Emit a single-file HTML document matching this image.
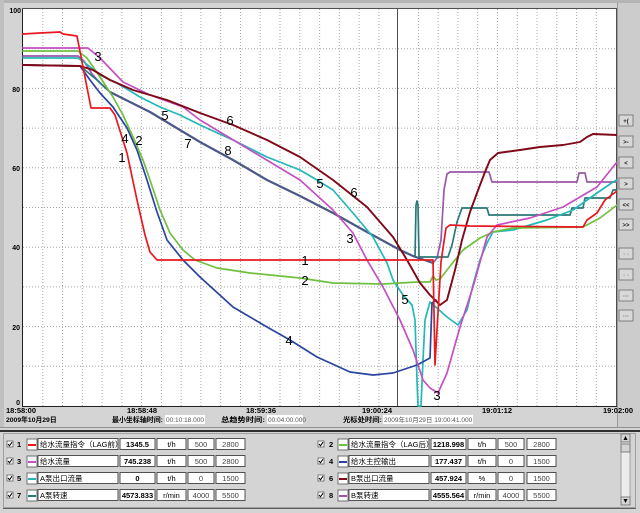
<!DOCTYPE html>
<html><head><meta charset="utf-8"><style>
html,body{margin:0;padding:0;background:#d4d4d4;}
svg{display:block;}
text{font-family:"Liberation Sans","Noto Sans CJK SC",sans-serif;}
</style></head><body>
<svg width="640" height="513" viewBox="0 0 640 513" xmlns="http://www.w3.org/2000/svg">
<rect x="0" y="0" width="640" height="513" fill="#d4d4d4"/>
<rect x="0" y="0" width="640" height="3" fill="#b4b4b4"/>
<rect x="0" y="0" width="4" height="428" fill="#c0c0c0"/>
<!-- plot -->
<rect x="23" y="9" width="593" height="397" fill="#ffffff"/>
<g stroke="#a8a8a8" stroke-width="1" stroke-dasharray="1,2" fill="none">
<path d="M42.8 9V406M62.5 9V406M82.3 9V406M102.1 9V406M121.9 9V406M141.6 9V406M161.4 9V406M181.2 9V406M200.9 9V406M220.7 9V406M240.5 9V406M260.2 9V406M280 9V406M299.8 9V406M319.6 9V406M339.3 9V406M359.1 9V406M378.9 9V406M418.4 9V406M438.2 9V406M457.9 9V406M477.7 9V406M497.5 9V406M517.3 9V406M537 9V406M556.8 9V406M576.6 9V406M596.3 9V406"/>
<path d="M23 48.7H616M23 88.4H616M23 128.1H616M23 167.8H616M23 207.5H616M23 247.2H616M23 286.9H616M23 326.6H616M23 366.3H616"/>
</g>
<line x1="397.5" y1="9" x2="397.5" y2="406" stroke="#505050" stroke-width="1"/>
<rect x="22.5" y="8.5" width="594" height="398" fill="none" stroke="#505050" stroke-width="1"/>
<line x1="22.5" y1="9" x2="22.5" y2="406" stroke="#202020" stroke-width="1"/>
<line x1="22" y1="406.5" x2="617" y2="406.5" stroke="#202020" stroke-width="1"/>

<!-- series -->
<g fill="none" stroke-linejoin="round" stroke-linecap="round" stroke-width="1.7">
<!-- 8 purple -->
<polyline stroke="#9a58a8" points="23,56 78,56 84,61 92,74 100,83 110,92 130,102 150,112 175,127 200,142 233,160 267,180 300,196 333,213 367,232 400,250 413,256 433,263 437,258 441,240 444,190 447,174 450,172 489,172 492,182 577,182 579,173 585,173 587,182 617,182"/>
<!-- 7 teal -->
<polyline stroke="#2a7878" points="23,65 80,66 85,70 97,80 110,92 130,102 150,112 175,127 200,142 233,160 267,180 300,196 333,213 367,232 400,250 413,256 415,257 416,205 417,201 418,205 419,257 420,257 448,257 452,245 457,222 462,208 487,208 489,215 570,215 572,208 583,208 585,198 610,198 613,190 617,190"/>
<!-- overlapped 7/8 slate -->
<polyline stroke="#4c5a88" stroke-width="2.2" points="110,92 130,102 150,112 175,127 200,142 233,160 267,180 300,196 333,213 367,232 400,250 413,256 433,263"/>
<!-- 5 cyan -->
<polyline stroke="#22b8b8" points="23,58 78,58 84,62 100,75 117,83 140,97 160,107 180,115 200,125 233,140 267,157 300,170 317,180 333,190 353,213 373,237 387,263 393,280 403,295 412,305 415,320 417,380 418,406 421,406 423,360 425,320 430,302 447,317 458,325 467,310 473,285 480,260 487,243 493,232 513,230 547,220 573,210 597,193 613,182 617,180"/>
<!-- 4 blue -->
<polyline stroke="#2a44a0" points="23,65 80,66 90,80 100,93 113,107 127,128 137,150 147,180 157,212 167,240 183,260 200,277 233,307 267,327 290,340 317,357 350,372 373,375 393,373 417,365 430,358 432,303 436,300"/>
<!-- 2 green -->
<polyline stroke="#70c040" points="23,51 78,51 87,58 100,77 113,97 123,115 133,137 143,160 150,180 160,210 170,233 183,250 195,260 217,268 250,273 300,278 333,283 383,284 417,282 430,282 433,276 436,280 440,279 447,270 463,250 480,238 493,232 513,228 583,227 600,218 617,205"/>
<!-- 3 magenta -->
<polyline stroke="#c450c0" points="23,48 88,48 100,58 123,82 150,95 183,107 200,120 225,135 250,150 275,165 300,180 333,210 353,233 367,260 383,287 400,320 413,350 423,380 430,388 438,393 447,373 460,327 473,287 487,237 497,225 530,218 563,207 597,187 617,162"/>
<!-- 6 dark red -->
<polyline stroke="#800818" stroke-width="1.9" points="23,65 80,66 93,70 110,80 133,90 167,100 200,113 233,125 267,140 300,157 333,180 367,207 393,237 407,260 420,283 430,295 440,305 447,300 455,270 462,240 470,212 477,193 485,172 490,160 498,153 520,150 540,147 563,145 580,142 587,137 593,134 617,135"/>
<!-- 1 red -->
<polyline stroke="#e81820" points="23,34 40,33 60,32 63,34 77,36 91,108 110,108 115,115 127,153 137,200 145,235 150,252 157,260 433,260 435,365 437,330 441,262 446,228 450,225 470,226 583,227 587,220 597,213 605,200 617,191"/>
</g>

<!-- curve labels -->
<g font-size="13" fill="#000" text-anchor="middle">
<text x="98" y="61">3</text>
<text x="122" y="162">1</text>
<text x="125" y="143">4</text>
<text x="139" y="145">2</text>
<text x="165" y="120">5</text>
<text x="188" y="148">7</text>
<text x="228" y="155">8</text>
<text x="230" y="125">6</text>
<text x="320" y="188">5</text>
<text x="354" y="197">6</text>
<text x="350" y="243">3</text>
<text x="305" y="265">1</text>
<text x="305" y="285">2</text>
<text x="289" y="345">4</text>
<text x="405" y="304">5</text>
<text x="437" y="400">3</text>
</g>

<!-- y labels -->
<g font-size="7" font-weight="bold" fill="#000" text-anchor="end">
<text x="21" y="13">100</text>
<text x="20" y="92">80</text>
<text x="20" y="171">60</text>
<text x="20" y="250">40</text>
<text x="20" y="330">20</text>
<text x="20" y="405">0</text>
</g>

<!-- right button panel -->
<rect x="617" y="3" width="23" height="424" fill="#cccccc"/>
<line x1="617.5" y1="3" x2="617.5" y2="427" stroke="#9a9a9a"/>
<g font-size="6" fill="#222" text-anchor="middle" font-weight="bold">
<rect x="619" y="115" width="14" height="11" fill="#d8d8d8" stroke="#808080"/><text x="626" y="123">+(</text>
<rect x="619" y="136" width="14" height="11" fill="#d8d8d8" stroke="#808080"/><text x="626" y="144">&gt;-</text>
<rect x="619" y="157" width="14" height="11" fill="#d8d8d8" stroke="#808080"/><text x="626" y="165">&lt;</text>
<rect x="619" y="178" width="14" height="11" fill="#d8d8d8" stroke="#808080"/><text x="626" y="186">&gt;</text>
<rect x="619" y="199" width="14" height="11" fill="#d8d8d8" stroke="#808080"/><text x="626" y="207">&lt;&lt;</text>
<rect x="619" y="219" width="14" height="11" fill="#d8d8d8" stroke="#808080"/><text x="626" y="227">&gt;&gt;</text>
<rect x="619" y="248" width="14" height="11" fill="#d8d8d8" stroke="#808080"/><text x="626" y="256" fill="#999">- -</text>
<rect x="619" y="269" width="14" height="11" fill="#d8d8d8" stroke="#808080"/><text x="626" y="277" fill="#999">- -</text>
<rect x="619" y="290" width="14" height="11" fill="#d8d8d8" stroke="#808080"/><text x="626" y="298" fill="#666">···</text>
<rect x="619" y="310" width="14" height="11" fill="#d8d8d8" stroke="#808080"/><text x="626" y="318" fill="#666">···</text>
</g>

<!-- time axis labels -->
<g font-size="7.5" font-weight="bold" fill="#000">
<text x="6" y="413">18:58:00</text>
<text x="142" y="413" text-anchor="middle">18:58:48</text>
<text x="261" y="413" text-anchor="middle">18:59:36</text>
<text x="377" y="413" text-anchor="middle">19:00:24</text>
<text x="497" y="413" text-anchor="middle">19:01:12</text>
<text x="633" y="413" text-anchor="end">19:02:00</text>
</g>
<g font-size="6.8" font-weight="bold" fill="#000">
<text x="6" y="422">2009年10月29日</text>
<text x="112" y="422" textLength="51" lengthAdjust="spacingAndGlyphs">最小坐标轴时间:</text>
<text x="221" y="422" textLength="44" lengthAdjust="spacingAndGlyphs">总趋势时间:</text>
<text x="343" y="422" textLength="39" lengthAdjust="spacingAndGlyphs">光标处时间:</text>
</g>
<rect x="165" y="415" width="40" height="9" fill="#fff"/>
<rect x="267" y="415" width="36" height="9" fill="#fff"/>
<rect x="383" y="415" width="90" height="9" fill="#fff"/>
<g font-size="6.5" fill="#555">
<text x="166" y="422">00:10:18.000</text>
<text x="268" y="422">00:04:00.000</text>
<text x="384" y="422">2009年10月29日 19:00:41.000</text>
</g>

<line x1="0" y1="427.5" x2="640" y2="427.5" stroke="#909090"/>
<rect x="0" y="430" width="640" height="2" fill="#303030"/>
<!-- legend panel -->
<rect x="3.5" y="433.5" width="632" height="74" fill="#d4d4d4" stroke="#a0a0a0"/>
<line x1="3" y1="508.5" x2="636" y2="508.5" stroke="#606060"/>

<!-- scrollbar -->
<rect x="621" y="434" width="9" height="71" fill="#ececec" stroke="#a0a0a0"/>
<rect x="621" y="434" width="9" height="8" fill="#d4d4d4" stroke="#808080"/>
<rect x="621" y="444" width="9" height="8" fill="#d4d4d4" stroke="#808080"/>
<rect x="621" y="497" width="9" height="8" fill="#d4d4d4" stroke="#808080"/>
<path d="M623.5 440 L625.5 436 L627.5 440Z M623.5 499 L625.5 503 L627.5 499Z" fill="#000"/>

<defs>
<g id="chk">
<rect x="0" y="-3" width="6" height="6" fill="#fff" stroke="#606060" stroke-width="0.8"/>
<path d="M1 0 L2.5 1.8 L5 -1.8" stroke="#000" stroke-width="1" fill="none"/>
</g>
</defs>

<g font-size="7.5">
<g transform="translate(0,444)">
<use href="#chk" x="7"/><text x="17" y="3" font-weight="bold">1</text>
<rect x="27" y="-5" width="10" height="11" fill="#fff" stroke="#707070"/><line x1="28" y1="1" x2="36" y2="1" stroke="#e81820" stroke-width="2"/>
<rect x="38" y="-5.5" width="80" height="11" fill="#fff" stroke="#505050"/><text x="40" y="3">给水流量指令（LAG前）</text>
<rect x="120" y="-5.5" width="35" height="11" fill="#fff" stroke="#505050"/><text x="137.5" y="3" text-anchor="middle" font-weight="bold">1345.5</text>
<rect x="157" y="-5.5" width="29" height="11" fill="#fff" stroke="#505050"/><text x="171.5" y="3" text-anchor="middle">t/h</text>
<rect x="188" y="-5.5" width="26" height="11" fill="#fff" stroke="#505050"/><text x="201" y="3" text-anchor="middle" fill="#444">500</text>
<rect x="216" y="-5.5" width="29" height="11" fill="#fff" stroke="#505050"/><text x="230.5" y="3" text-anchor="middle" fill="#444">2800</text>
</g>
<g transform="translate(0,461)">
<use href="#chk" x="7"/><text x="17" y="3" font-weight="bold">3</text>
<rect x="27" y="-5" width="10" height="11" fill="#fff" stroke="#707070"/><line x1="28" y1="1" x2="36" y2="1" stroke="#c450c0" stroke-width="2"/>
<rect x="38" y="-5.5" width="80" height="11" fill="#fff" stroke="#505050"/><text x="40" y="3">给水流量</text>
<rect x="120" y="-5.5" width="35" height="11" fill="#fff" stroke="#505050"/><text x="137.5" y="3" text-anchor="middle" font-weight="bold">745.238</text>
<rect x="157" y="-5.5" width="29" height="11" fill="#fff" stroke="#505050"/><text x="171.5" y="3" text-anchor="middle">t/h</text>
<rect x="188" y="-5.5" width="26" height="11" fill="#fff" stroke="#505050"/><text x="201" y="3" text-anchor="middle" fill="#444">500</text>
<rect x="216" y="-5.5" width="29" height="11" fill="#fff" stroke="#505050"/><text x="230.5" y="3" text-anchor="middle" fill="#444">2800</text>
</g>
<g transform="translate(0,478)">
<use href="#chk" x="7"/><text x="17" y="3" font-weight="bold">5</text>
<rect x="27" y="-5" width="10" height="11" fill="#fff" stroke="#707070"/><line x1="28" y1="1" x2="36" y2="1" stroke="#22b8b8" stroke-width="2"/>
<rect x="38" y="-5.5" width="80" height="11" fill="#fff" stroke="#505050"/><text x="40" y="3">A泵出口流量</text>
<rect x="120" y="-5.5" width="35" height="11" fill="#fff" stroke="#505050"/><text x="137.5" y="3" text-anchor="middle" font-weight="bold">0</text>
<rect x="157" y="-5.5" width="29" height="11" fill="#fff" stroke="#505050"/><text x="171.5" y="3" text-anchor="middle">t/h</text>
<rect x="188" y="-5.5" width="26" height="11" fill="#fff" stroke="#505050"/><text x="201" y="3" text-anchor="middle" fill="#444">0</text>
<rect x="216" y="-5.5" width="29" height="11" fill="#fff" stroke="#505050"/><text x="230.5" y="3" text-anchor="middle" fill="#444">1500</text>
</g>
<g transform="translate(0,495)">
<use href="#chk" x="7"/><text x="17" y="3" font-weight="bold">7</text>
<rect x="27" y="-5" width="10" height="11" fill="#fff" stroke="#707070"/><line x1="28" y1="1" x2="36" y2="1" stroke="#2a7878" stroke-width="2"/>
<rect x="38" y="-5.5" width="80" height="11" fill="#fff" stroke="#505050"/><text x="40" y="3">A泵转速</text>
<rect x="120" y="-5.5" width="35" height="11" fill="#fff" stroke="#505050"/><text x="137.5" y="3" text-anchor="middle" font-weight="bold">4573.833</text>
<rect x="157" y="-5.5" width="29" height="11" fill="#fff" stroke="#505050"/><text x="171.5" y="3" text-anchor="middle">r/min</text>
<rect x="188" y="-5.5" width="26" height="11" fill="#fff" stroke="#505050"/><text x="201" y="3" text-anchor="middle" fill="#444">4000</text>
<rect x="216" y="-5.5" width="29" height="11" fill="#fff" stroke="#505050"/><text x="230.5" y="3" text-anchor="middle" fill="#444">5500</text>
</g>

<g transform="translate(0,444)">
<use href="#chk" x="318"/><text x="329" y="3" font-weight="bold">2</text>
<rect x="338" y="-5" width="10" height="11" fill="#fff" stroke="#707070"/><line x1="339" y1="1" x2="347" y2="1" stroke="#70c040" stroke-width="2"/>
<rect x="349" y="-5.5" width="80" height="11" fill="#fff" stroke="#505050"/><text x="351" y="3">给水流量指令（LAG后）</text>
<rect x="431" y="-5.5" width="35" height="11" fill="#fff" stroke="#505050"/><text x="448.5" y="3" text-anchor="middle" font-weight="bold">1218.998</text>
<rect x="468" y="-5.5" width="28" height="11" fill="#fff" stroke="#505050"/><text x="482" y="3" text-anchor="middle">t/h</text>
<rect x="498" y="-5.5" width="26" height="11" fill="#fff" stroke="#505050"/><text x="511" y="3" text-anchor="middle" fill="#444">500</text>
<rect x="527" y="-5.5" width="29" height="11" fill="#fff" stroke="#505050"/><text x="541.5" y="3" text-anchor="middle" fill="#444">2800</text>
</g>
<g transform="translate(0,461)">
<use href="#chk" x="318"/><text x="329" y="3" font-weight="bold">4</text>
<rect x="338" y="-5" width="10" height="11" fill="#fff" stroke="#707070"/><line x1="339" y1="1" x2="347" y2="1" stroke="#2a44a0" stroke-width="2"/>
<rect x="349" y="-5.5" width="80" height="11" fill="#fff" stroke="#505050"/><text x="351" y="3">给水主控输出</text>
<rect x="431" y="-5.5" width="35" height="11" fill="#fff" stroke="#505050"/><text x="448.5" y="3" text-anchor="middle" font-weight="bold">177.437</text>
<rect x="468" y="-5.5" width="28" height="11" fill="#fff" stroke="#505050"/><text x="482" y="3" text-anchor="middle">t/h</text>
<rect x="498" y="-5.5" width="26" height="11" fill="#fff" stroke="#505050"/><text x="511" y="3" text-anchor="middle" fill="#444">0</text>
<rect x="527" y="-5.5" width="29" height="11" fill="#fff" stroke="#505050"/><text x="541.5" y="3" text-anchor="middle" fill="#444">1500</text>
</g>
<g transform="translate(0,478)">
<use href="#chk" x="318"/><text x="329" y="3" font-weight="bold">6</text>
<rect x="338" y="-5" width="10" height="11" fill="#fff" stroke="#707070"/><line x1="339" y1="1" x2="347" y2="1" stroke="#800818" stroke-width="2"/>
<rect x="349" y="-5.5" width="80" height="11" fill="#fff" stroke="#505050"/><text x="351" y="3">B泵出口流量</text>
<rect x="431" y="-5.5" width="35" height="11" fill="#fff" stroke="#505050"/><text x="448.5" y="3" text-anchor="middle" font-weight="bold">457.924</text>
<rect x="468" y="-5.5" width="28" height="11" fill="#fff" stroke="#505050"/><text x="482" y="3" text-anchor="middle">%</text>
<rect x="498" y="-5.5" width="26" height="11" fill="#fff" stroke="#505050"/><text x="511" y="3" text-anchor="middle" fill="#444">0</text>
<rect x="527" y="-5.5" width="29" height="11" fill="#fff" stroke="#505050"/><text x="541.5" y="3" text-anchor="middle" fill="#444">1500</text>
</g>
<g transform="translate(0,495)">
<use href="#chk" x="318"/><text x="329" y="3" font-weight="bold">8</text>
<rect x="338" y="-5" width="10" height="11" fill="#fff" stroke="#707070"/><line x1="339" y1="1" x2="347" y2="1" stroke="#9a58a8" stroke-width="2"/>
<rect x="349" y="-5.5" width="80" height="11" fill="#fff" stroke="#505050"/><text x="351" y="3">B泵转速</text>
<rect x="431" y="-5.5" width="35" height="11" fill="#fff" stroke="#505050"/><text x="448.5" y="3" text-anchor="middle" font-weight="bold">4555.564</text>
<rect x="468" y="-5.5" width="28" height="11" fill="#fff" stroke="#505050"/><text x="482" y="3" text-anchor="middle">r/min</text>
<rect x="498" y="-5.5" width="26" height="11" fill="#fff" stroke="#505050"/><text x="511" y="3" text-anchor="middle" fill="#444">4000</text>
<rect x="527" y="-5.5" width="29" height="11" fill="#fff" stroke="#505050"/><text x="541.5" y="3" text-anchor="middle" fill="#444">5500</text>
</g>
</g>
</svg>
</body></html>
